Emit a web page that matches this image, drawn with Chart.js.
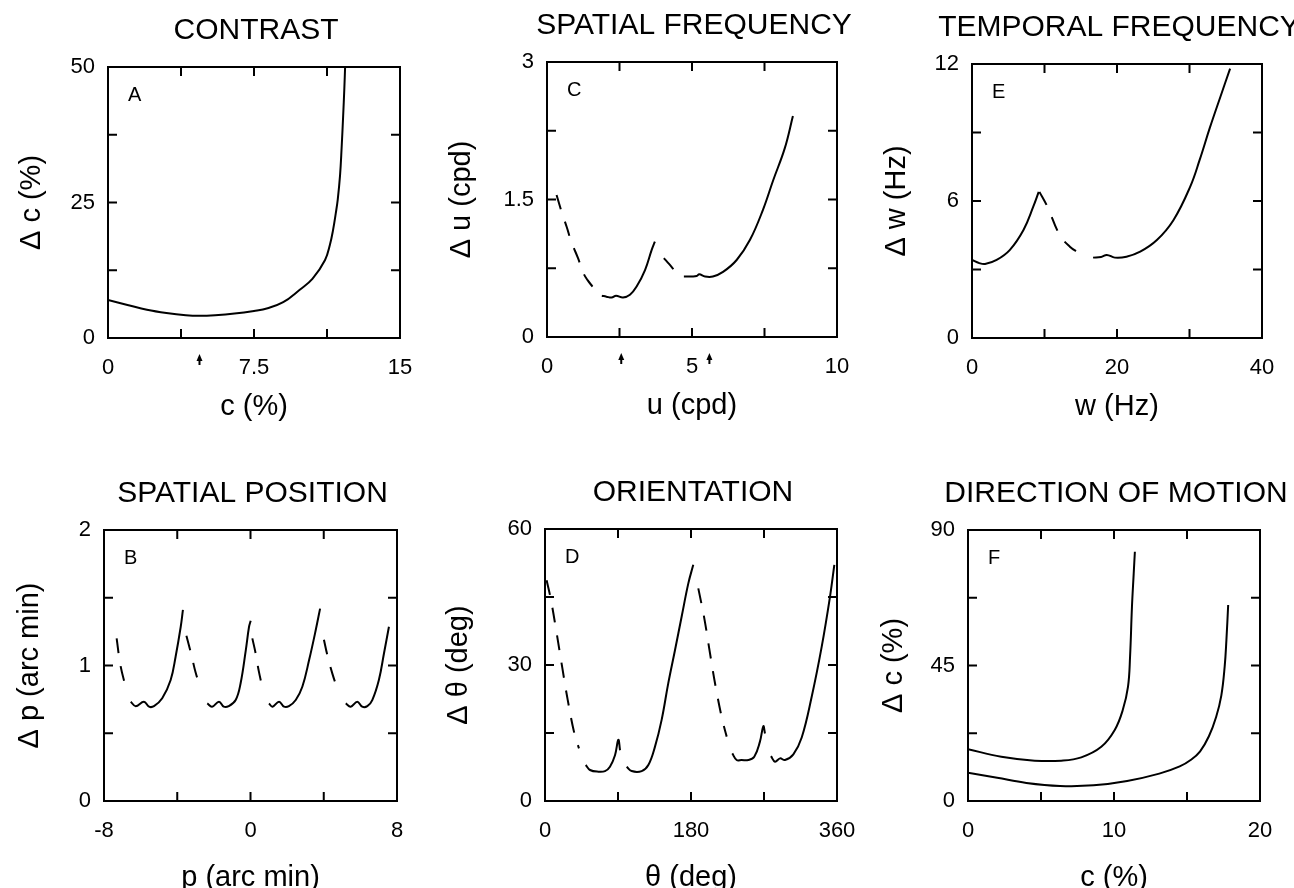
<!DOCTYPE html>
<html>
<head>
<meta charset="utf-8">
<script src="https://cdn.jsdelivr.net/npm/chart.js@4.4.1/dist/chart.umd.min.js"></script>
<style>
  body { margin: 0; background: #fff; width: 1294px; height: 888px; overflow: hidden; position: relative; }
  canvas { position: absolute; }
</style>
</head>
<body>
<canvas id="chartA"></canvas>
<canvas id="chartC"></canvas>
<canvas id="chartE"></canvas>
<canvas id="chartB"></canvas>
<canvas id="chartD"></canvas>
<canvas id="chartF"></canvas>
<script>
// A - contrast
var aTicksX = [0, 7.5, 15];
var aTicksY = [0, 25, 50];
var aX = [0, 1, 2, 3, 4, 4.7, 5.5, 6.5, 7.5, 8.2, 9, 9.85, 10.5, 11.15, 11.4, 11.56, 11.7, 11.8, 11.92, 12.0, 12.08, 12.14, 12.18];
var aY = [7.0, 6.1, 5.2, 4.6, 4.2, 4.1, 4.2, 4.5, 5.0, 5.5, 6.6, 8.9, 10.9, 14.4, 17.2, 19.9, 23, 25.5, 30, 35, 41, 46, 50];
var aArrows = [4.7];

// C - spatial frequency
var cTicksX = [0, 5, 10];
var cTicksY = [0, 1.5, 3];
var cSolidX = [1.89, 2.05, 2.23, 2.38, 2.62, 2.86, 3.09, 3.38, 3.61, 3.72, 4.3, 4.72, 5.0, 5.16, 5.25, 5.45, 5.72, 6.07, 6.54, 7.0, 7.45, 7.8, 8.2, 8.48];
var cSolidY = [0.45, 0.44, 0.43, 0.45, 0.43, 0.46, 0.55, 0.73, 0.95, 1.04, null, 0.66, 0.66, 0.665, 0.685, 0.66, 0.66, 0.71, 0.84, 1.06, 1.39, 1.71, 2.06, 2.41];
var cDashX = [0.33, 0.5, 0.68, 0.85, 1.07, 1.25, 1.4, 1.57, 2.8, 4.03, 4.2, 4.36];
var cDashY = [1.55, 1.37, 1.2, 1.03, 0.86, 0.7, 0.62, 0.55, null, 0.86, 0.8, 0.74];
var cArrows = [2.56, 5.6];

// E - temporal frequency
var eTicksX = [0, 20, 40];
var eTicksY = [0, 6, 12];
var eSolidX = [0, 1, 1.8, 3.4, 5.2, 7.1, 8.45, 9.2, 13, 16.7, 17.8, 18.6, 19.7, 21.3, 23.2, 25.5, 27.8, 30.1, 31.4, 32.8, 34.3, 35.6];
var eSolidY = [3.42, 3.28, 3.24, 3.42, 3.85, 4.73, 5.75, 6.4, null, 3.52, 3.55, 3.64, 3.52, 3.56, 3.78, 4.29, 5.17, 6.63, 7.8, 9.2, 10.6, 11.8];
var eDashX = [9.3, 10.4, 12.1, 13.5, 14.8];
var eDashY = [6.4, 5.75, 4.51, 4.0, 3.71];

// B - spatial position
var bTicksX = [-8, 0, 8];
var bTicksY = [0, 1, 2];
var bSolidX = [-6.54, -6.27, -5.82, -5.54, -5.27, -4.82, -4.36, -4.09, -3.81, -3.69, -3,
               -2.36, -2.1, -1.72, -1.46, -1.19, -0.81, -0.54, -0.26, -0.08, 0.01, 0.5,
               1.01, 1.2, 1.56, 1.83, 2.1, 2.47, 2.83, 3.2, 3.56, 3.8, 4.5,
               5.2, 5.47, 5.83, 6.1, 6.38, 6.65, 7.01, 7.29, 7.56];
var bSolidY = [0.733, 0.70, 0.733, 0.696, 0.70, 0.758, 0.893, 1.065, 1.286, 1.41, null,
               0.72, 0.696, 0.733, 0.696, 0.70, 0.745, 0.869, 1.11, 1.286, 1.33, null,
               0.72, 0.696, 0.733, 0.696, 0.70, 0.745, 0.843, 1.04, 1.26, 1.42, null,
               0.72, 0.696, 0.733, 0.696, 0.70, 0.745, 0.893, 1.09, 1.286];
var bDashX = [-7.31, -7.1, -6.82, -5, -3.5, -3.23, -3.0, -2.72, -1, 0.1, 0.28, 0.45, 0.64, 2, 4.01, 4.19, 4.47, 4.74];
var bDashY = [1.2, 1.0, 0.843, null, 1.22, 1.08, 0.95, 0.83, null, 1.2, 1.09, 0.96, 0.843, null, 1.19, 1.08, 0.94, 0.83];

// D - orientation
var dTicksX = [0, 180, 360];
var dTicksY = [0, 30, 60];
var dSolidX = [50.2, 55.5, 65.8, 74, 80.1, 86.3, 90.4, 92.5, 96,
               100.7, 106.8, 119.2, 127.4, 135.6, 143.8, 152, 160.3, 168.5, 176.7, 182.8, 200,
               230.9, 236.3, 242.4, 250.6, 258, 265, 269.2, 271.2, 275,
               278.6, 283.6, 289.7, 295.9, 306.2, 316.5, 328.8, 341.1, 351.4, 356.7];
var dSolidY = [7.94, 6.84, 6.47, 6.6, 7.57, 10.1, 13.5, 11.2, null,
               7.57, 6.6, 6.6, 7.94, 12.0, 17.9, 26, 33.3, 40.7, 48, 52.1, null,
               10.5, 9.04, 9.04, 9.04, 9.77, 13.1, 16.5, 14.9, null,
               9.9, 8.67, 9.4, 9.04, 10.3, 14, 23, 34, 45.1, 52.1];
var dDashX = [2, 7.4, 14.4, 21.4, 28, 36.2, 41.9, 140, 189, 196.4, 203.4, 210.4, 218.6, 224];
var dDashY = [48.7, 44.3, 37, 29.3, 22.3, 14.9, 11.6, null, 46.9, 40.3, 32.6, 25.2, 17.9, 14.2];

// F - direction of motion
var fTicksX = [0, 10, 20];
var fTicksY = [0, 45, 90];
var fUpperX = [0, 2.28, 4.57, 6.39, 7.76, 9.13, 10.05, 10.6, 10.96, 11.1, 11.23, 11.35, 11.43];
var fUpperY = [17.2, 14.7, 13.4, 13.4, 14.5, 18, 23.6, 30.2, 38, 47.9, 64.5, 75.6, 82.8];
var fLowerX = [0, 2.0, 4, 6.3, 8.6, 10.9, 13.1, 14.5, 15.3, 15.9, 16.5, 17.0, 17.35, 17.58, 17.7, 17.82];
var fLowerY = [9.4, 7.7, 6.0, 5.0, 5.2, 6.65, 9.1, 11.5, 13.8, 16.5, 21.5, 28, 35, 44.6, 53.5, 65.1];

var FONT = '"Liberation Sans", Arial, Helvetica, sans-serif';

function pts(xs, ys) {
  return xs.map(function (x, i) { return { x: x, y: ys[i] }; });
}
function solid(xs, ys) {
  return {
    data: pts(xs, ys),
    borderColor: '#000',
    borderWidth: 2,
    pointRadius: 0,
    fill: false,
    spanGaps: false,
    tension: 0.4
  };
}
function dashed(xs, ys) {
  var d = solid(xs, ys);
  d.borderDash = [15, 13];
  return d;
}
function labelFor(list) {
  return function (v) {
    for (var i = 0; i < list.length; i++) {
      if (Math.abs(list[i] - v) < 1e-6) return String(list[i]);
    }
    return '';
  };
}

// panel title, box, inner ticks, panel letter and arrows
var frame = {
  id: 'frame',
  afterDraw: function (chart, args, opts) {
    var a = chart.chartArea, ctx = chart.ctx;
    var xs = chart.scales.x, ys = chart.scales.y;
    var tl = 9;
    ctx.save();
    ctx.strokeStyle = '#000';
    ctx.lineWidth = 2;
    ctx.strokeRect(a.left, a.top, a.right - a.left, a.bottom - a.top);
    ctx.beginPath();
    xs.ticks.forEach(function (t, i) {
      if (i === 0 || i === xs.ticks.length - 1) return;
      var px = xs.getPixelForValue(t.value);
      ctx.moveTo(px, a.bottom); ctx.lineTo(px, a.bottom - tl);
      ctx.moveTo(px, a.top); ctx.lineTo(px, a.top + tl);
    });
    ys.ticks.forEach(function (t, i) {
      if (i === 0 || i === ys.ticks.length - 1) return;
      var py = ys.getPixelForValue(t.value);
      ctx.moveTo(a.left, py); ctx.lineTo(a.left + tl, py);
      ctx.moveTo(a.right, py); ctx.lineTo(a.right - tl, py);
    });
    ctx.stroke();

    ctx.fillStyle = '#000';
    ctx.font = '30px ' + FONT;
    ctx.textAlign = 'center';
    ctx.textBaseline = 'middle';
    ctx.fillText(opts.title, (a.left + a.right) / 2 + 2, a.top - 36);

    ctx.font = '20px ' + FONT;
    ctx.textAlign = 'left';
    ctx.textBaseline = 'alphabetic';
    ctx.fillText(opts.letter, a.left + 20, a.top + 34);

    (opts.arrows || []).forEach(function (v) {
      var px = xs.getPixelForValue(v);
      ctx.lineWidth = 2;
      ctx.beginPath();
      ctx.moveTo(px, a.bottom + 27);
      ctx.lineTo(px, a.bottom + 21);
      ctx.stroke();
      ctx.beginPath();
      ctx.moveTo(px - 3, a.bottom + 23);
      ctx.lineTo(px, a.bottom + 16);
      ctx.lineTo(px + 3, a.bottom + 23);
      ctx.closePath();
      ctx.fill();
    });
    ctx.restore();
  }
};

function makePanel(cfg) {
  var canvas = document.getElementById(cfg.id);
  var W = 108 + cfg.w + 40;
  var H = 67 + cfg.h + 102;
  canvas.width = W;
  canvas.height = H;
  canvas.style.left = (cfg.left - 108) + 'px';
  canvas.style.top = (cfg.top - 67) + 'px';

  return new Chart(canvas.getContext('2d'), {
    type: 'line',
    data: { datasets: cfg.datasets },
    options: {
      responsive: false,
      animation: false,
      devicePixelRatio: 1,
      layout: { padding: { top: 67, right: 40, bottom: 0, left: 0 } },
      plugins: {
        legend: { display: false },
        tooltip: { enabled: false },
        title: { display: false },
        frame: { title: cfg.title, letter: cfg.letter, arrows: cfg.arrows }
      },
      scales: {
        x: {
          type: 'linear',
          min: cfg.xMin, max: cfg.xMax,
          grid: { display: false, drawTicks: false },
          border: { display: false },
          ticks: {
            stepSize: (cfg.xMax - cfg.xMin) / 4,
            autoSkip: false, maxRotation: 0, padding: 17,
            color: '#000',
            font: { family: FONT, size: 22 },
            callback: labelFor(cfg.xTicks)
          },
          title: {
            display: true, text: cfg.xTitle, color: '#000',
            font: { family: FONT, size: 29 },
            padding: { top: 0, bottom: cfg.xTitlePad }
          },
          afterFit: function (s) { s.height = 102; }
        },
        y: {
          type: 'linear',
          min: cfg.yMin, max: cfg.yMax,
          grid: { display: false, drawTicks: false },
          border: { display: false },
          ticks: {
            stepSize: (cfg.yMax - cfg.yMin) / 4,
            autoSkip: false, padding: 13,
            color: '#000',
            font: { family: FONT, size: 22 },
            callback: labelFor(cfg.yTicks)
          },
          title: {
            display: true, text: cfg.yTitle, color: '#000',
            font: { family: FONT, size: 29 },
            padding: { top: cfg.yTitlePad, bottom: 0 }
          },
          afterFit: function (s) { s.width = 108; }
        }
      }
    },
    plugins: [frame]
  });
}

var chartA = makePanel({
  id: 'chartA', left: 108, top: 67, w: 292, h: 271,
  title: 'CONTRAST', letter: 'A', xTitle: 'c (%)', yTitle: 'Δ c (%)',
  xMin: 0, xMax: 15, yMin: 0, yMax: 50, xTicks: aTicksX, yTicks: aTicksY,
  xTitlePad: 16, yTitlePad: 15, arrows: aArrows,
  datasets: [solid(aX, aY)]
});

var chartC = makePanel({
  id: 'chartC', left: 547, top: 62, w: 290, h: 275,
  title: 'SPATIAL FREQUENCY', letter: 'C', xTitle: 'u (cpd)', yTitle: 'Δ u (cpd)',
  xMin: 0, xMax: 10, yMin: 0, yMax: 3, xTicks: cTicksX, yTicks: cTicksY,
  xTitlePad: 16, yTitlePad: 6, arrows: cArrows,
  datasets: [solid(cSolidX, cSolidY), dashed(cDashX, cDashY)]
});

var chartE = makePanel({
  id: 'chartE', left: 972, top: 64, w: 290, h: 274,
  title: 'TEMPORAL FREQUENCY', letter: 'E', xTitle: 'w (Hz)', yTitle: 'Δ w (Hz)',
  xMin: 0, xMax: 40, yMin: 0, yMax: 12, xTicks: eTicksX, yTicks: eTicksY,
  xTitlePad: 16, yTitlePad: 16,
  datasets: [solid(eSolidX, eSolidY), dashed(eDashX, eDashY)]
});

var chartB = makePanel({
  id: 'chartB', left: 104, top: 530, w: 293, h: 271,
  title: 'SPATIAL POSITION', letter: 'B', xTitle: 'p (arc min)', yTitle: 'Δ p (arc min)',
  xMin: -8, xMax: 8, yMin: 0, yMax: 2, xTicks: bTicksX, yTicks: bTicksY,
  xTitlePad: 8, yTitlePad: 17,
  datasets: [solid(bSolidX, bSolidY), dashed(bDashX, bDashY)]
});

var chartD = makePanel({
  id: 'chartD', left: 545, top: 529, w: 292, h: 272,
  title: 'ORIENTATION', letter: 'D', xTitle: 'θ (deg)', yTitle: 'Δ θ (deg)',
  xMin: 0, xMax: 360, yMin: 0, yMax: 60, xTicks: dTicksX, yTicks: dTicksY,
  xTitlePad: 8, yTitlePad: 5,
  datasets: [solid(dSolidX, dSolidY), dashed(dDashX, dDashY)]
});

var chartF = makePanel({
  id: 'chartF', left: 968, top: 530, w: 292, h: 271,
  title: 'DIRECTION OF MOTION', letter: 'F', xTitle: 'c (%)', yTitle: 'Δ c (%)',
  xMin: 0, xMax: 20, yMin: 0, yMax: 90, xTicks: fTicksX, yTicks: fTicksY,
  xTitlePad: 8, yTitlePad: 17,
  datasets: [solid(fUpperX, fUpperY), solid(fLowerX, fLowerY)]
});
</script>
</body>
</html>
